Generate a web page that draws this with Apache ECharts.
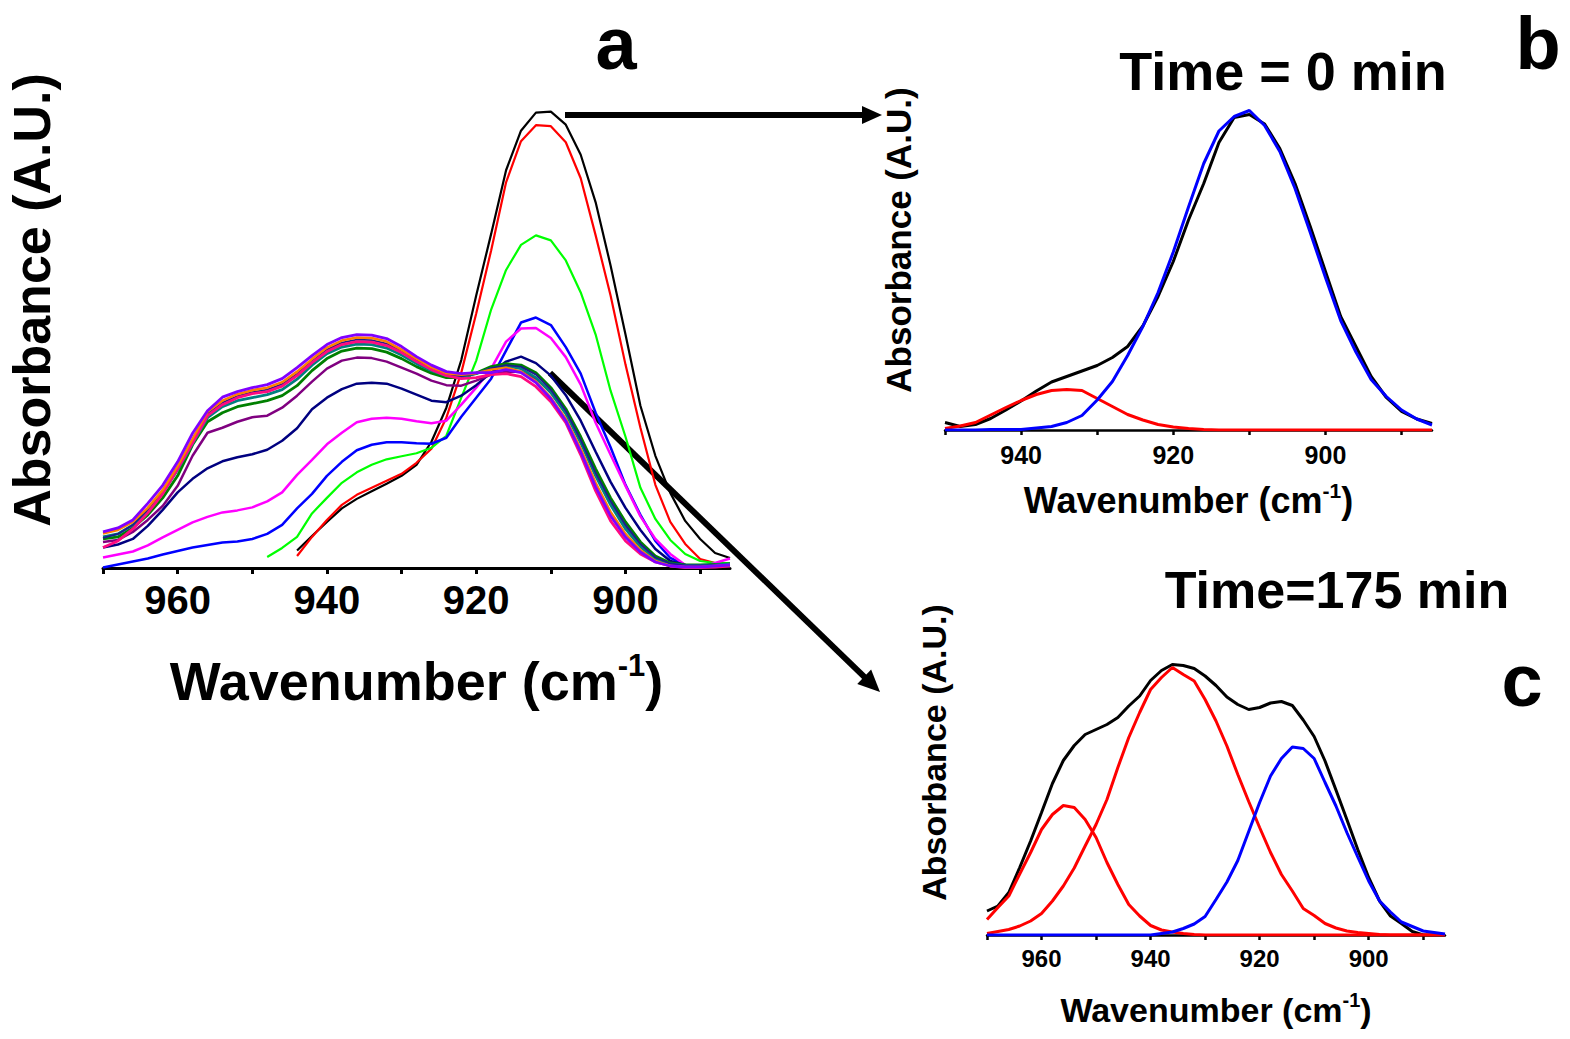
<!DOCTYPE html>
<html>
<head>
<meta charset="utf-8">
<script src="https://cdn.jsdelivr.net/npm/echarts@6/dist/echarts.min.js"></script>
<style>html,body{margin:0;padding:0;background:#fff}#chart{width:1570px;height:1039px}</style>
</head>
<body>
<div id="chart"></div>
<script>
// ---------- Panel a : FTIR spectra over time ----------
const waveA = [970,968,966,964,962,960,958,956,954,952,950,948,946,944,942,940,938,936,934,932,930,928,926,924,922,920,918,916,914,912,910,908,906,904,902,900,898,896,894,892,890,888,886];
const ticksA = [970,960,950,940,930,920,910,900,890];
const labelsA = [960,940,920,900];

const aBlack = [null,null,null,null,null,null,null,null,null,null,null,null,null,3.5,6.4,9.2,11.9,13.8,15.3,16.8,18.4,20.6,25.2,32.0,41.5,54.4,66.7,79.4,87.3,90.9,91.1,88.5,82.5,73.0,60.4,46.6,32.4,22.4,15.0,9.4,5.8,3.0,2.0];
const aRed = [null,null,null,null,null,null,null,null,null,null,null,null,null,2.4,6.2,9.6,12.6,14.6,16.0,17.4,18.8,21.0,23.8,30.0,39.0,50.8,63.4,77.0,85.2,88.4,88.2,85.0,77.8,66.4,54.4,40.6,28.0,16.6,9.2,4.8,1.8,1.0,1.0];
const aGreen = [null,null,null,null,null,null,null,null,null,null,null,2.2,4.0,6.2,10.9,14.0,17.0,19.1,20.6,21.7,22.3,22.9,24.0,26.4,34.0,41.4,51.6,59.5,64.5,66.4,65.4,61.4,55.0,46.6,35.4,26.2,16.0,9.8,5.6,2.8,1.4,1.0,1.0];
const aBlue = [0.1,0.7,1.3,1.9,2.7,3.4,4.1,4.6,5.1,5.3,5.8,6.8,8.6,11.9,14.8,18.4,21.2,23.5,24.6,25.1,25.1,24.9,24.8,26.0,30.2,34.0,37.8,43.4,49.0,50.0,48.5,44.1,38.8,31.0,24.1,16.6,10.6,5.4,2.0,0.6,0.2,0.2,0.4];
const aMagenta = [2.1,2.7,3.3,4.5,6.1,7.6,9.1,10.2,11.1,11.5,12.1,13.3,15.1,18.6,21.6,24.7,27.0,29.1,29.8,30.0,29.8,29.3,28.9,29.4,32.6,36.0,39.8,45.2,47.8,47.9,45.9,42.1,36.6,29.0,22.6,16.4,10.3,5.8,2.8,0.6,0.1,1.0,1.9];
const aNavy = [4.1,4.7,5.8,8.4,11.6,15.1,17.8,19.9,21.3,22.1,22.7,23.6,25.4,27.9,31.7,34.0,35.7,36.8,37.0,36.8,35.8,34.6,33.4,33.1,34.4,36.5,39.0,41.2,42.2,40.9,38.4,34.5,29.4,23.2,17.2,12.0,7.6,3.8,1.4,0.6,0.4,0.4,0.4];
const aPurple = [5.2,5.6,7.2,9.6,12.4,16.4,22.4,27.0,28.0,29.2,30.1,30.4,32.0,34.4,37.2,39.8,41.4,42.0,41.9,41.2,40.0,38.8,37.4,36.5,36.4,37.4,38.6,39.2,39.2,37.8,35.2,31.2,25.4,18.8,13.0,8.2,4.6,2.0,0.8,0.4,0.4,0.4,0.6];
const aDkGreen = [5.8,6.2,8.0,10.6,14.0,18.4,24.6,29.2,31.0,32.2,32.8,33.4,34.4,36.4,39.4,41.8,43.3,43.9,43.8,43.1,41.8,40.2,38.9,38.0,38.0,38.9,40.2,40.8,40.5,39.0,36.0,31.8,26.2,19.8,14.0,9.2,5.2,2.4,1.0,0.6,0.6,0.7,0.8];
const aTeal = [6.2,6.8,8.6,11.4,15.0,19.6,24.8,30.0,32.2,33.4,34.0,34.6,35.6,37.7,40.5,42.8,44.1,44.7,44.6,43.9,42.5,40.8,39.4,38.4,38.2,38.8,39.8,40.3,39.8,38.0,35.0,30.8,25.0,18.4,12.6,7.8,4.2,1.8,0.8,0.5,0.5,0.6,0.8];
const aNavy2 = [6.0,6.8,8.6,11.6,15.2,20.1,25.4,30.8,33.0,34.3,35.1,35.6,36.7,38.8,41.3,43.6,45.0,45.6,45.5,44.8,43.3,41.5,39.8,38.6,38.3,38.8,39.9,40.5,40.2,38.6,35.6,31.4,25.6,19.0,13.4,8.6,4.8,2.1,0.9,0.5,0.5,0.5,0.6];
const aPink = [4.1,5.4,7.8,11.0,14.8,19.8,25.0,30.4,32.6,34.0,34.8,35.2,36.3,38.4,41.0,43.2,44.6,45.2,45.1,44.4,43.0,41.2,39.6,38.4,37.8,38.0,38.6,38.8,38.2,36.2,33.2,29.0,22.6,15.4,9.4,5.4,2.8,1.2,0.4,0.1,0.1,0.2,0.4];
const aOrange = [6.9,7.6,9.2,12.0,15.6,20.4,25.8,31.2,33.4,34.7,35.5,36.0,37.1,39.2,41.7,44.0,45.4,46.0,45.9,45.2,43.6,41.8,40.1,38.9,38.6,38.9,39.6,40.0,39.2,37.2,34.0,29.8,23.8,17.0,11.2,6.8,3.6,1.4,0.4,0.2,0.2,0.4,0.6];
const aViolet = [7.2,8.0,9.6,12.9,16.5,21.2,26.9,31.4,34.1,35.2,36.0,36.6,37.8,40.0,42.4,44.6,46.0,46.6,46.5,45.8,44.2,42.2,40.5,39.2,38.8,39.0,39.0,39.6,39.0,37.0,33.8,29.4,23.2,16.2,10.4,6.2,3.2,1.2,0.4,0.2,0.2,0.4,0.6];

// ---------- Panel b : Time = 0 min deconvolution ----------
const waveB = [950,948,946,944,942,940,938,936,934,932,930,928,926,924,922,920,918,916,914,912,910,908,906,904,902,900,898,896,894,892,890,888,886];
const ticksB = [950,940,930,920,910,900,890];
const labelsB = [940,920,900];
const bMeasured = [1.5,0.7,1.1,2.3,4.0,5.8,7.8,9.6,10.7,11.8,12.9,14.5,16.7,20.8,26.7,33.7,42.0,49.3,57.5,62.5,63.1,61.2,56.3,49.3,40.7,31.7,22.7,16.7,10.7,6.5,3.7,2.2,1.3];
const bRedPeak = [0.3,0.8,1.5,3.0,4.5,5.9,7.1,7.9,8.1,7.9,6.3,4.7,3.1,2.0,1.1,0.6,0.3,0.1,0,0,0,0,0,0,0,0,0,0,0,0,0,0,0];
const bBluePeak = [0,0,0,0.1,0.1,0.1,0.4,0.7,1.5,2.9,6.0,9.7,14.9,20.7,27.5,35.6,44.6,53.3,59.8,62.7,63.9,60.9,55.7,48.3,39.5,30.5,21.9,15.6,10.1,6.7,4.0,2.2,1.0];

// ---------- Panel c : Time = 175 min deconvolution ----------
const waveC = [970,968,966,964,962,960,958,956,954,952,950,948,946,944,942,940,938,936,934,932,930,928,926,924,922,920,918,916,914,912,910,908,906,904,902,900,898,896,894,892,890,888,886];
const ticksC = [970,960,950,940,930,920,910,900,890];
const labelsC = [960,940,920,900];
const cMeasured = [4.8,5.8,8.5,13.5,18.8,24.5,30.3,34.9,37.9,40.1,41.1,42.1,43.5,45.8,47.8,50.9,52.9,54.1,53.9,53.3,51.8,49.9,47.6,46.1,45.1,45.5,46.4,46.7,45.9,43.0,39.7,34.8,29.0,23.1,17.1,11.5,6.8,3.8,2.3,0.7,0,0,0];
const cRedPeak1 = [3.1,5.5,7.8,12.2,16.5,21.1,24.1,25.9,25.5,23.1,19.5,14.5,10.1,6.1,3.8,1.9,1.0,0.6,0.3,0.1,0,0,0,0,0,0,0,0,0,0,0,0,0,0,0,0,0,0,0,0,0,0,0];
const cRedPeak2 = [0.3,0.7,1.1,1.8,2.8,4.3,6.8,9.8,13.4,17.8,22.1,27.1,33.5,39.5,44.5,49.1,51.5,53.5,52.1,50.8,47.1,42.8,37.8,32.1,26.7,21.5,16.5,12.1,8.8,5.3,3.9,2.3,1.4,0.8,0.5,0.3,0.1,0,0,0,0,0,0];
const cBluePeak = [0,0,0,0,0,0,0,0,0,0,0,0,0,0,0,0,0.3,0.6,1.3,2.2,3.7,7.1,10.6,14.9,20.7,26.5,31.8,35.3,37.6,37.3,35.3,30.5,25.8,20.5,15.6,10.8,6.8,4.6,2.6,1.7,0.8,0.5,0.2];

const F = "'Liberation Sans', Arial, Helvetica, sans-serif";

function pairs(xs, ys) {
  return xs.map((x, i) => [x, ys[i] == null ? '-' : ys[i]]);
}
function line(name, xs, ys, color, width, idx) {
  return {
    name: name, type: 'line', xAxisIndex: idx, yAxisIndex: idx,
    data: pairs(xs, ys), symbol: 'none', smooth: false,
    lineStyle: { color: color, width: width }, itemStyle: { color: color },
    emphasis: { disabled: true }, silent: true
  };
}
function xAx(idx, min, max, ticks, labels, lw, tickLen, lblSize, lblMargin, nameSize, supSize, nameGap) {
  return {
    gridIndex: idx, type: 'value', inverse: true, min: min, max: max,
    axisLine: { show: true, onZero: false, lineStyle: { color: '#000', width: lw } },
    axisTick: { show: true, customValues: ticks, length: tickLen, lineStyle: { color: '#000', width: lw } },
    axisLabel: { customValues: labels, fontSize: lblSize, fontWeight: 'bold', color: '#000', margin: lblMargin, fontFamily: F },
    splitLine: { show: false },
    name: '{a|Wavenumber (cm}{s|-1}{a|)}', nameLocation: 'middle', nameGap: nameGap,
    nameTextStyle: {
      rich: {
        a: { fontSize: nameSize, fontWeight: 'bold', fontFamily: F, color: '#000', lineHeight: Math.round(nameSize * 1.15) },
        s: { fontSize: supSize, fontWeight: 'bold', fontFamily: F, color: '#000', verticalAlign: 'top', lineHeight: supSize }
      }
    }
  };
}
function yAx(idx, max, nameSize, nameGap) {
  return {
    gridIndex: idx, type: 'value', min: 0, max: max,
    axisLine: { show: false }, axisTick: { show: false }, axisLabel: { show: false }, splitLine: { show: false },
    name: 'Absorbance (A.U.)', nameLocation: 'middle', nameRotate: 90, nameGap: nameGap,
    nameTextStyle: { fontSize: nameSize, fontWeight: 'bold', color: '#000', fontFamily: F }
  };
}
function label(text, x, y, size) {
  return {
    type: 'text', x: x, y: y, silent: true,
    style: { text: text, fontSize: size, fontWeight: 'bold', fontFamily: F, fill: '#000', lineHeight: Math.round(size * 0.95),
             align: 'center', verticalAlign: 'middle', textAlign: 'center', textVerticalAlign: 'middle' }
  };
}
function arrow(x1, y1, x2, y2, w, headLen, headHalf) {
  const dx = x2 - x1, dy = y2 - y1, L = Math.sqrt(dx * dx + dy * dy);
  const ux = dx / L, uy = dy / L, px = -uy, py = ux;
  const bx = x2 - ux * headLen, by = y2 - uy * headLen;
  return [
    { type: 'line', silent: true, shape: { x1: x1, y1: y1, x2: bx + ux * 2, y2: by + uy * 2 }, style: { stroke: '#000', lineWidth: w } },
    { type: 'polygon', silent: true, shape: { points: [[x2, y2], [bx + px * headHalf, by + py * headHalf], [bx - px * headHalf, by - py * headHalf]] }, style: { fill: '#000' } }
  ];
}

const chart = echarts.init(document.getElementById('chart'), null, { renderer: 'svg' });
chart.setOption({
  animation: false,
  backgroundColor: '#ffffff',
  grid: [
    { left: 103, top: 32, width: 627, height: 536 },
    { left: 945, top: 50, width: 487, height: 380 },
    { left: 987, top: 570, width: 458, height: 365 }
  ],
  xAxis: [
    xAx(0, 886, 970, ticksA, labelsA, 3, 6, 40, 12, 54, 31, 82),
    xAx(1, 886, 950, ticksB, labelsB, 2.5, 5, 25, 12, 36, 21, 50),
    xAx(2, 886, 970, ticksC, labelsC, 2.5, 5, 24, 11, 34, 20, 55)
  ],
  yAxis: [
    yAx(0, 107, 52, 45),
    yAx(1, 76, 35, 29),
    yAx(2, 73, 34, 36)
  ],
  series: [
    line('0 min', waveA, aBlack, '#000000', 2.2, 0),
    line('t2', waveA, aRed, '#ff0000', 2.2, 0),
    line('t3', waveA, aGreen, '#00ff00', 2.2, 0),
    line('t4', waveA, aBlue, '#0000ff', 2.5, 0),
    line('t5', waveA, aMagenta, '#ff00ff', 2.5, 0),
    line('t6', waveA, aNavy, '#000080', 2.5, 0),
    line('t7', waveA, aPurple, '#800080', 2.5, 0),
    line('t8', waveA, aDkGreen, '#008000', 2.8, 0),
    line('t9', waveA, aTeal, '#008080', 2.8, 0),
    line('t10', waveA, aNavy2, '#1c1c8c', 1.8, 0),
    line('t11', waveA, aPink, '#ff0a80', 2.8, 0),
    line('t12', waveA, aOrange, '#ff8000', 2.5, 0),
    line('175 min', waveA, aViolet, '#8000ff', 2.8, 0),

    line('measured 0 min', waveB, bMeasured, '#000000', 3, 1),
    line('peak 935', waveB, bRedPeak, '#ff0000', 3, 1),
    line('peak 911', waveB, bBluePeak, '#0000ff', 3, 1),

    line('measured 175 min', waveC, cMeasured, '#000000', 3, 2),
    line('peak 955', waveC, cRedPeak1, '#ff0000', 3, 2),
    line('peak 936', waveC, cRedPeak2, '#ff0000', 3, 2),
    line('peak 913', waveC, cBluePeak, '#0000ff', 3, 2)
  ],
  graphic: [
    label('a', 616, 43, 74),
    label('b', 1538, 43, 74),
    label('c', 1522, 680, 74),
    label('Time = 0 min', 1283, 71, 54),
    label('Time=175 min', 1337, 590, 52)
  ].concat(arrow(565, 115, 882, 115, 6, 20, 9))
   .concat(arrow(550, 373, 880, 692, 6, 22, 10))
});
</script>
</body>
</html>
